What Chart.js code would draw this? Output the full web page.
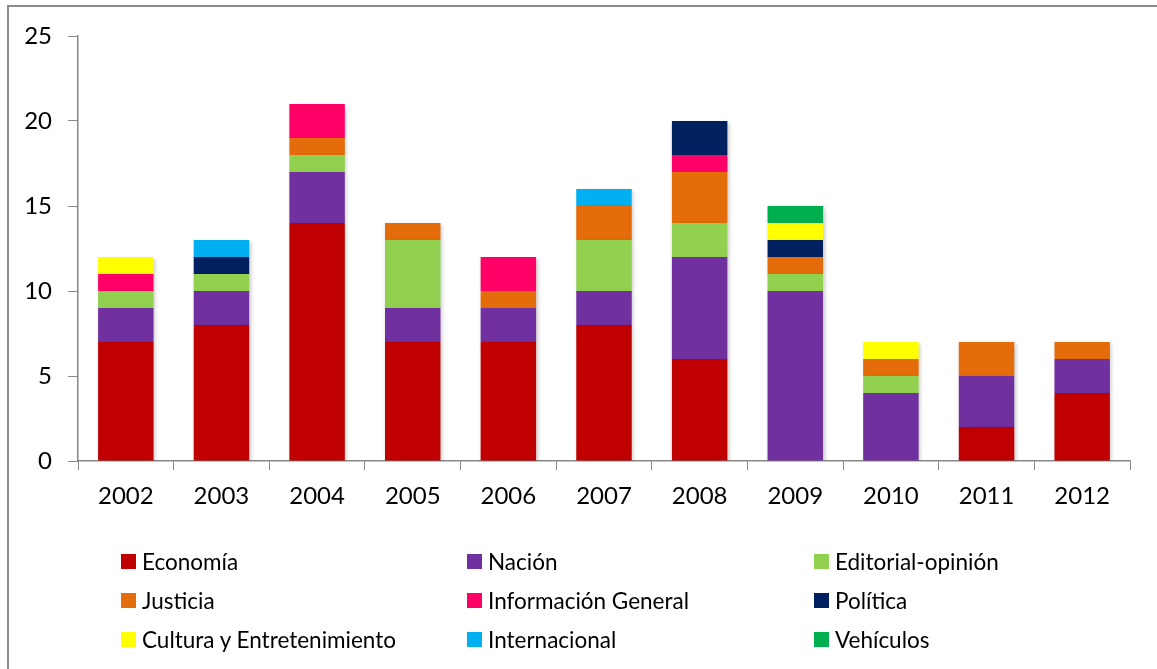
<!DOCTYPE html>
<html>
<head>
<meta charset="utf-8">
<script src="https://cdn.jsdelivr.net/npm/chart.js@4.4.1/dist/chart.umd.min.js"></script>
<style>
body { margin: 0; background: #fff; overflow: hidden; }
#wrap { position: relative; width: 1157px; height: 669px; overflow: hidden; }
#frame { position: absolute; left: 7px; top: 5px; width: 1200px; height: 700px; border: 2px solid #8a8a8a; }
#chart { position: absolute; left: 0; top: 0; }
.item { position: absolute; display: flex; align-items: center; white-space: nowrap; height: 26px;
        font-family: Lato, sans-serif; font-size: 22.5px; color: #000; }
.box { width: 15px; height: 15px; margin-right: 6px; }
</style>
</head>
<body>
<div id="wrap">
  <div id="frame"></div>
  <canvas id="chart" width="1157" height="669"></canvas>
  <div id="legend"></div>
</div>
<script>
const years = ["2002", "2003", "2004", "2005", "2006", "2007", "2008", "2009", "2010", "2011", "2012"];
const yTicks = [0, 5, 10, 15, 20, 25];

const economia      = [7, 8, 14, 7, 7, 8, 6, 0, 0, 2, 4];
const nacion        = [2, 2, 3, 2, 2, 2, 6, 10, 4, 3, 2];
const editorial     = [1, 1, 1, 4, 0, 3, 2, 1, 1, 0, 0];
const justicia      = [0, 0, 1, 1, 1, 2, 3, 1, 1, 2, 1];
const infoGeneral   = [1, 0, 2, 0, 2, 0, 1, 0, 0, 0, 0];
const politica      = [0, 1, 0, 0, 0, 0, 2, 1, 0, 0, 0];
const cultura       = [1, 0, 0, 0, 0, 0, 0, 1, 1, 0, 0];
const internacional = [0, 1, 0, 0, 0, 1, 0, 0, 0, 0, 0];
const vehiculos     = [0, 0, 0, 0, 0, 0, 0, 1, 0, 0, 0];

const series = [
    { label: "Economía", data: economia, color: "#C00000" },
    { label: "Nación", data: nacion, color: "#7030A0" },
    { label: "Editorial-opinión", data: editorial, color: "#92D050" },
    { label: "Justicia", data: justicia, color: "#E46C0A" },
    { label: "Información General", data: infoGeneral, color: "#FF0066" },
    { label: "Política", data: politica, color: "#002060" },
    { label: "Cultura y Entretenimiento", data: cultura, color: "#FFFF00" },
    { label: "Internacional", data: internacional, color: "#00B0F0" },
    { label: "Vehículos", data: vehiculos, color: "#00B050" }
];

// legend order is row by row, 3 columns
const legendCols = [121, 467, 814];
const legendRows = [561, 600, 639];

// soft shadow like the excel bars
const barShadow = {
    id: "barShadow",
    beforeDatasetsDraw(chart) {
        const c = chart.ctx;
        c.save();
        c.shadowColor = "rgba(0,0,0,0.22)";
        c.shadowBlur = 4;
        c.shadowOffsetX = 1.5;
        c.shadowOffsetY = 1.5;
    },
    afterDatasetsDraw(chart) {
        chart.ctx.restore();
    }
};

const ctx = document.getElementById("chart");
const chart = new Chart(ctx, {
    type: "bar",
    data: {
        labels: years,
        datasets: series.map(s => ({
            label: s.label,
            data: s.data,
            backgroundColor: s.color,
            borderWidth: 0,
            barPercentage: 0.58,
            categoryPercentage: 1
        }))
    },
    options: {
        responsive: false,
        animation: false,
        layout: { padding: { left: 0, top: 36, right: 27, bottom: 158 } },
        plugins: {
            legend: { display: false },
            tooltip: { enabled: false }
        },
        scales: {
            x: {
                stacked: true,
                grid: { display: true, drawOnChartArea: false, drawTicks: true, tickLength: 9, color: "#888", offset: true },
                border: { display: true, color: "#888", width: 1.5 },
                ticks: { color: "#000", font: { family: "Lato", size: 24 }, padding: 12, maxRotation: 0 },
                afterFit: s => { s.height = 50; }
            },
            y: {
                stacked: true,
                min: 0,
                max: 25,
                afterBuildTicks: s => { s.ticks = yTicks.map(v => ({ value: v })); },
                grid: { display: true, drawOnChartArea: false, drawTicks: true, tickLength: 10, color: "#888" },
                border: { display: true, color: "#888", width: 1.5 },
                ticks: { color: "#000", font: { family: "Lato", size: 24 }, padding: 16 },
                afterFit: s => { s.width = 78; }
            }
        }
    },
    plugins: [barShadow]
});

const legend = document.getElementById("legend");
series.forEach((s, i) => {
    const col = i % 3;
    const row = Math.floor(i / 3);
    legend.innerHTML += `<div class="item" style="left:${legendCols[col]}px;top:${legendRows[row] - 13}px">
        <span class="box" style="background:${s.color}"></span>${s.label}
    </div>`;
});
</script>
</body>
</html>
